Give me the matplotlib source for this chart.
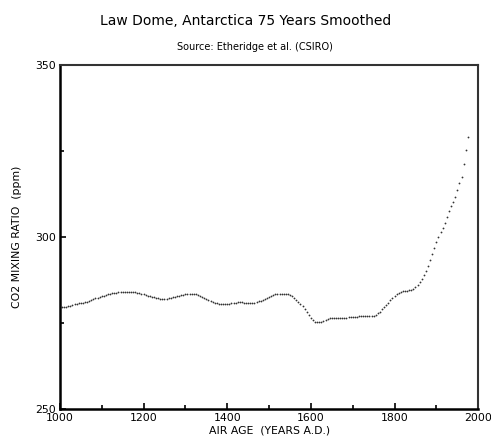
"""Law Dome CO2 record, 75-year smoothed, drawn as a dotted series."""

import matplotlib
matplotlib.use('Agg')
import matplotlib.pyplot as plt
from matplotlib.ticker import MultipleLocator

years = [
    1005, 1010, 1015, 1020, 1025, 1030, 1035, 1040, 1045, 1050,
    1055, 1060, 1065, 1070, 1075, 1080, 1085, 1090, 1095, 1100,
    1105, 1110, 1115, 1120, 1125, 1130, 1135, 1140, 1145, 1150,
    1155, 1160, 1165, 1170, 1175, 1180, 1185, 1190, 1195, 1200,
    1205, 1210, 1215, 1220, 1225, 1230, 1235, 1240, 1245, 1250,
    1255, 1260, 1265, 1270, 1275, 1280, 1285, 1290, 1295, 1300,
    1305, 1310, 1315, 1320, 1325, 1330, 1335, 1340, 1345, 1350,
    1355, 1360, 1365, 1370, 1375, 1380, 1385, 1390, 1395, 1400,
    1405, 1410, 1415, 1420, 1425, 1430, 1435, 1440, 1445, 1450,
    1455, 1460, 1465, 1470, 1475, 1480, 1485, 1490, 1495, 1500,
    1505, 1510, 1515, 1520, 1525, 1530, 1535, 1540, 1545, 1550,
    1555, 1560, 1565, 1570, 1575, 1580, 1585, 1590, 1595, 1600,
    1605, 1610, 1615, 1620, 1625, 1630, 1635, 1640, 1645, 1650,
    1655, 1660, 1665, 1670, 1675, 1680, 1685, 1690, 1695, 1700,
    1705, 1710, 1715, 1720, 1725, 1730, 1735, 1740, 1745, 1750,
    1755, 1760, 1765, 1770, 1775, 1780, 1785, 1790, 1795, 1800,
    1805, 1810, 1815, 1820, 1825, 1830, 1835, 1840, 1845, 1850,
    1855, 1860, 1865, 1870, 1875, 1880, 1885, 1890, 1895, 1900,
    1905, 1910, 1915, 1920, 1925, 1930, 1935, 1940, 1945, 1950,
    1955, 1960, 1965, 1970, 1975,
]

co2_ppm = [
    279.5, 279.6, 279.7, 279.8, 280.0, 280.2, 280.4, 280.5, 280.7, 280.8,
    280.9, 281.0, 281.2, 281.4, 281.6, 281.8, 282.1, 282.3, 282.5, 282.7,
    282.9, 283.1, 283.3, 283.5, 283.6, 283.7, 283.8, 283.9, 284.0, 284.0,
    284.1, 284.1, 284.1, 284.1, 284.0, 283.9, 283.8, 283.7, 283.5, 283.3,
    283.1, 282.9, 282.7, 282.5, 282.4, 282.2, 282.1, 282.0, 281.9, 281.9,
    282.0, 282.1, 282.2, 282.4, 282.6, 282.7, 282.9, 283.0, 283.2, 283.3,
    283.4, 283.5, 283.5, 283.4, 283.3, 283.1, 282.9, 282.6, 282.3, 282.0,
    281.7, 281.4, 281.1, 280.9, 280.7, 280.6, 280.5, 280.5, 280.5, 280.5,
    280.6, 280.7, 280.8, 280.9, 281.0, 281.0, 281.0, 280.9, 280.8, 280.7,
    280.7, 280.8, 280.9, 281.1, 281.3, 281.5, 281.7, 282.0, 282.3, 282.6,
    282.9, 283.1, 283.3, 283.4, 283.4, 283.5, 283.5, 283.4, 283.3, 283.2,
    282.8, 282.3, 281.7, 281.1, 280.5, 279.8, 279.0, 278.1, 277.2, 276.4,
    275.8, 275.4, 275.3, 275.3, 275.4, 275.6, 275.9, 276.1, 276.3, 276.4,
    276.5, 276.5, 276.5, 276.5, 276.5, 276.5, 276.5, 276.6, 276.7, 276.7,
    276.8, 276.8, 276.9, 276.9, 276.9, 276.9, 276.9, 277.0, 277.0, 277.1,
    277.4, 277.8, 278.3, 278.9, 279.5, 280.2, 280.9, 281.6, 282.3, 282.9,
    283.4, 283.8, 284.1, 284.3, 284.4, 284.4, 284.5, 284.7, 284.9, 285.3,
    285.9, 286.8, 287.9, 289.0, 290.1, 291.5, 293.2, 295.0, 296.9, 298.6,
    300.1, 301.4, 302.6, 304.1, 305.9, 307.6, 308.9, 310.2, 311.6, 313.5,
    315.6, 317.5, 321.2, 325.2, 329.2,
]

x_ticks = [1000, 1200, 1400, 1600, 1800, 2000]
y_ticks = [250, 300, 350]

plt.rcParams['font.family'] = ['DejaVu Sans']

fig = plt.figure(figsize=(4.91, 4.42), dpi=100)
ax = fig.add_axes([0.122, 0.075, 0.852, 0.778])

ax.plot(years, co2_ppm, linestyle='none', marker='o', markersize=1.3,
        markeredgewidth=0, color='#333333')

ax.set_xlim(1000, 2000)
ax.set_ylim(250, 350)
ax.set_xticks(x_ticks)
ax.set_yticks(y_ticks)
ax.xaxis.set_minor_locator(MultipleLocator(100))
ax.yaxis.set_minor_locator(MultipleLocator(25))
ax.tick_params(which='both', direction='in', top=False, right=False,
               labelsize=7.8, width=1.2, color='black')
ax.tick_params(which='major', length=4, pad=3)
ax.tick_params(which='minor', length=3)

for side in ['left', 'bottom']:
    ax.spines[side].set_linewidth(1.8)
for side in ['top', 'right']:
    ax.spines[side].set_linewidth(1.5)
    ax.spines[side].set_color('#333333')

ax.set_xlabel('AIR AGE  (YEARS A.D.)', fontsize=7.8, labelpad=2)
ax.set_ylabel('CO2 MIXING RATIO  (ppm)', fontsize=7.8, labelpad=9)

fig.text(0.5, 0.953, 'Law Dome, Antarctica 75 Years Smoothed',
         ha='center', va='center', fontsize=10)
fig.text(0.52, 0.893, 'Source: Etheridge et al. (CSIRO)',
         ha='center', va='center', fontsize=7)

fig.savefig('out.png', dpi=100)
